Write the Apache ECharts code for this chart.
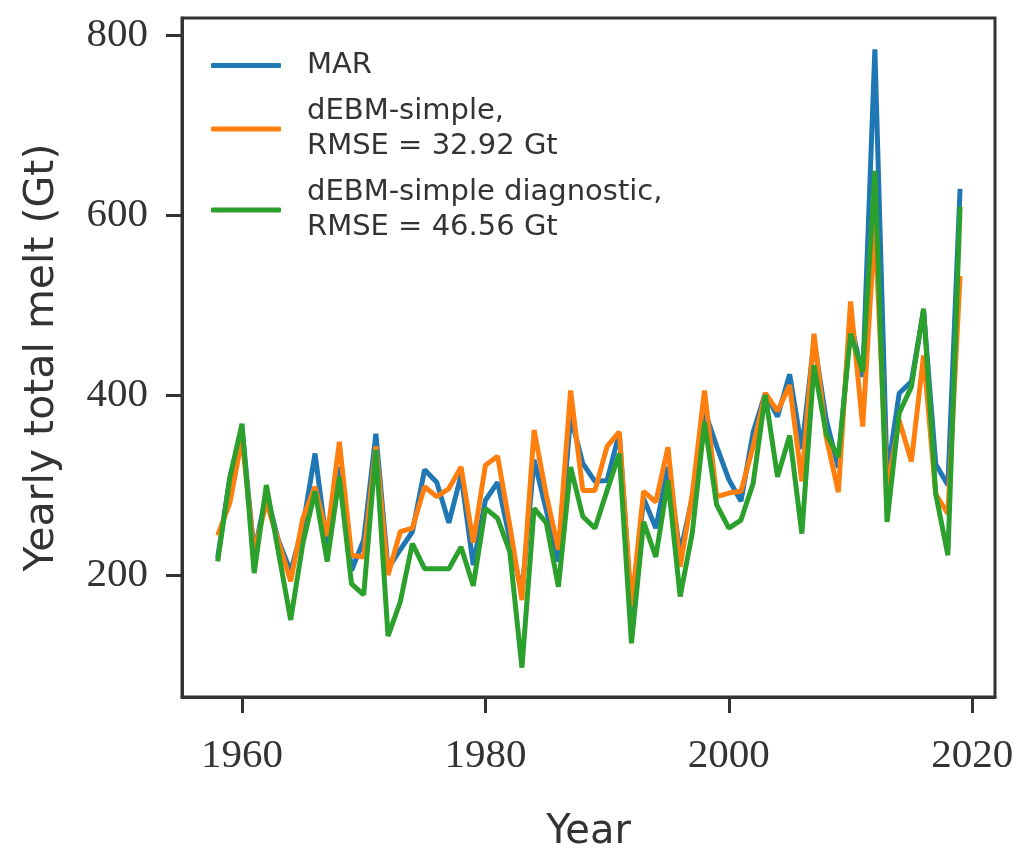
<!DOCTYPE html>
<html>
<head>
<meta charset="utf-8">
<script src="https://cdn.jsdelivr.net/npm/echarts@6/dist/echarts.min.js"></script>
<style>html,body{margin:0;padding:0;background:#fff;}#c{width:1032px;height:868px;}</style>
</head>
<body>
<div id="c"></div>
<script>
const years = [];
for (let y = 1958; y <= 2019; y++) years.push(y);

const marValues = [219,308,362,225,290,238,204,254,335,231,320,205,239,357,207,228,248,317,303,258,311,211,283,303,240,180,328,272,215,376,324,304,305,358,158,285,252,320,224,286,383,343,306,282,359,402,376,423,340,460,373,319,482,420,784,310,402,415,494,323,300,629];
const simpleValues = [244,280,352,225,281,237,193,263,298,243,348,222,220,343,200,248,252,298,287,296,320,236,322,332,255,172,361,289,228,405,294,294,343,359,165,293,281,342,209,290,405,287,291,293,343,402,382,411,304,468,353,292,504,365,590,295,372,326,444,290,268,532];
const diagValues = [215,308,368,202,300,225,150,235,293,215,309,190,178,339,132,170,235,207,207,207,231,188,274,263,226,97,274,258,187,320,265,252,294,335,124,259,220,305,176,247,370,278,252,261,302,400,309,355,246,433,357,331,468,426,649,259,380,409,496,290,222,609];

const seriesNames = ['MAR', 'dEBM-simple,\nRMSE = 32.92 Gt', 'dEBM-simple diagnostic,\nRMSE = 46.56 Gt'];
const xTicks = [1960, 1980, 2000, 2020];
const yTicks = [200, 400, 600, 800];

const pairs = vals => years.map((y, i) => [y, vals[i]]);
const colors = ['#1f77b4', '#ff7f0e', '#2ca02c'];
const spine = '#333333';

const chart = echarts.init(document.getElementById('c'));
chart.setOption({
  animation: false,
  backgroundColor: '#ffffff',
  grid: {
    left: 182, right: 37, top: 18, bottom: 171,
    show: true, borderColor: spine, borderWidth: 3, backgroundColor: 'transparent'
  },
  legend: {
    orient: 'vertical',
    left: 206, top: 43,
    itemWidth: 70, itemHeight: 5,
    itemGap: 11,
    icon: 'roundRect',
    data: seriesNames,
    textStyle: {
      fontFamily: 'DejaVu Sans', fontSize: 29, color: '#333333',
      lineHeight: 35, padding: [0, 0, 0, 21]
    }
  },
  xAxis: {
    type: 'value', min: 1955.07, max: 2021.87,
    name: 'Year', nameLocation: 'middle', nameGap: 116,
    nameTextStyle: { fontFamily: 'DejaVu Sans', fontSize: 40, color: '#333333' },
    axisLine: { show: true, lineStyle: { color: spine, width: 3 } },
    axisTick: { show: true, length: 16, customValues: xTicks, lineStyle: { color: spine, width: 3 } },
    axisLabel: { customValues: xTicks, margin: 39, fontFamily: 'Liberation Serif', fontSize: 41, color: '#333333',
      formatter: v => String(v) },
    splitLine: { show: false }
  },
  yAxis: {
    type: 'value', min: 64.4, max: 818.9,
    name: 'Yearly total melt (Gt)', nameLocation: 'middle', nameGap: 119,
    nameTextStyle: { fontFamily: 'DejaVu Sans', fontSize: 41, color: '#333333' },
    axisLine: { show: true, lineStyle: { color: spine, width: 3 } },
    axisTick: { show: true, length: 16, customValues: yTicks, lineStyle: { color: spine, width: 3 } },
    axisLabel: { customValues: yTicks, margin: 34, fontFamily: 'Liberation Serif', fontSize: 41, color: '#333333',
      formatter: v => String(v) },
    splitLine: { show: false }
  },
  series: [
    { name: seriesNames[0], type: 'line', data: pairs(marValues), showSymbol: false, symbol: 'none',
      lineStyle: { color: colors[0], width: 5 }, itemStyle: { color: colors[0] } },
    { name: seriesNames[1], type: 'line', data: pairs(simpleValues), showSymbol: false, symbol: 'none',
      lineStyle: { color: colors[1], width: 5 }, itemStyle: { color: colors[1] } },
    { name: seriesNames[2], type: 'line', data: pairs(diagValues), showSymbol: false, symbol: 'none',
      lineStyle: { color: colors[2], width: 5 }, itemStyle: { color: colors[2] } }
  ]
});
</script>
</body>
</html>
